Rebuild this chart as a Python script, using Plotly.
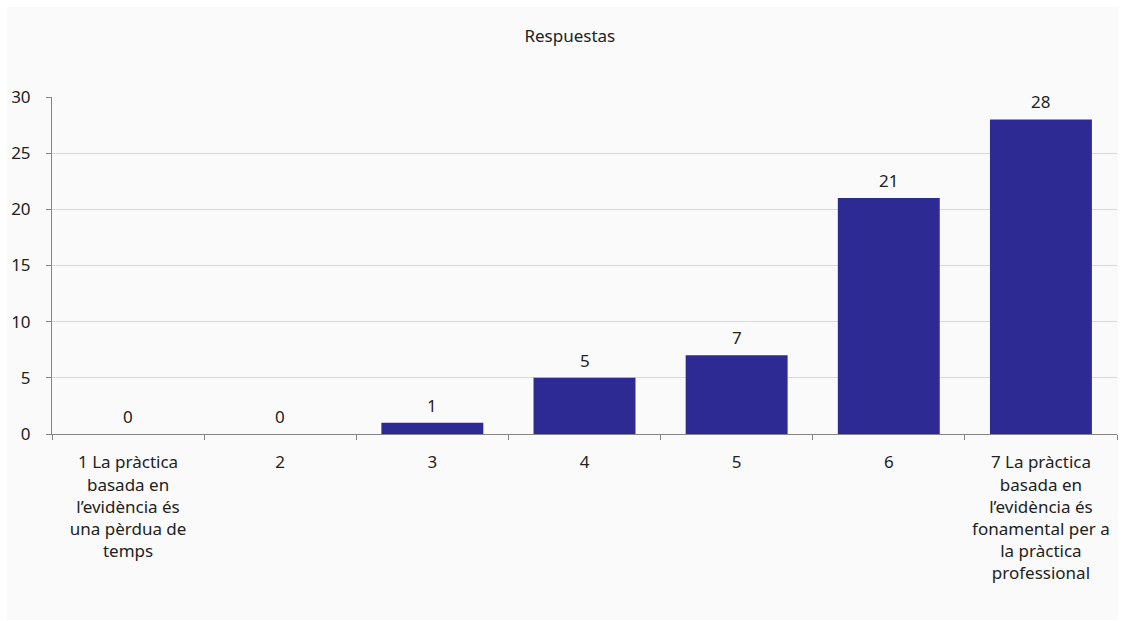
import plotly.graph_objects as go

categories = [
    "1 La pràctica<br>basada en<br>l’evidència és<br>una pèrdua de<br>temps",
    "2", "3", "4", "5", "6",
    "7 La pràctica<br>basada en<br>l’evidència és<br>fonamental per a<br>la pràctica<br>professional",
]
values = [0, 0, 1, 5, 7, 21, 28]
title_text = "Respuestas"
y_ticks = [0, 5, 10, 15, 20, 25, 30]

FONT = "Noto Sans"
TXT = "#222222"
FS = 17

fig = go.Figure()
fig.add_trace(go.Bar(
    x=categories, y=values,
    marker=dict(color="#2E2A94", line=dict(width=0)),
    width=0.67,
    cliponaxis=False,
))
for i, v in enumerate(values):
    fig.add_annotation(x=i, y=v, text=str(v), showarrow=False, yanchor="bottom",
                       yshift=4, font=dict(family=FONT, size=FS, color=TXT))

fig.update_layout(
    width=1124, height=621,
    margin=dict(l=52, r=7, t=97, b=187),
    paper_bgcolor="white", plot_bgcolor="#fafafa",
    showlegend=False,
    title=dict(text=title_text, x=0.507, xanchor="center", y=0.942, yanchor="middle",
               font=dict(family=FONT, size=FS, color=TXT)),
    shapes=[dict(type="rect", xref="paper", yref="paper", x0=-0.0423, x1=1.0009,
                 y0=-0.552, y1=1.267, fillcolor="#fafafa", line=dict(width=0), layer="below")],
    bargap=0.33,
)
fig.update_xaxes(
    type="category", showgrid=False, showline=True, linecolor="#858585", linewidth=1,
    ticks="outside", tickson="boundaries", ticklen=5, tickcolor="#858585",
    tickfont=dict(family=FONT, size=FS, color=TXT), tickangle=0, ticklabelstandoff=13,
)
fig.update_yaxes(
    range=[0, 30], tickvals=y_ticks, showgrid=True, gridcolor="#d9d9d9", gridwidth=1,
    showline=True, linecolor="#858585", linewidth=1, ticks="outside", ticklen=5,
    tickcolor="#858585", tickfont=dict(family=FONT, size=FS, color=TXT), zeroline=False,
    ticklabelstandoff=12,
)
fig.write_html("out.html")
